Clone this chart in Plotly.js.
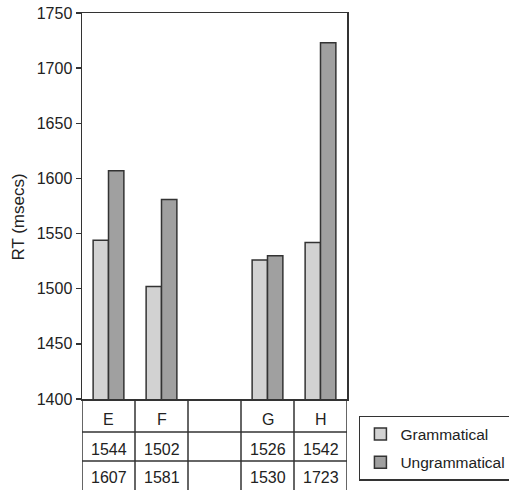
<!DOCTYPE html>
<html>
<head>
<meta charset="utf-8">
<script src="https://cdn.plot.ly/plotly-3.0.1.min.js"></script>
<style>html,body{margin:0;padding:0;background:#fff;}#chart{width:509px;height:490px;}</style>
</head>
<body>
<div id="chart"></div>
<script>
// ---- data ----
var categories = ['E', 'F', '', 'G', 'H'];
var grammatical = [1544, 1502, null, 1526, 1542];
var ungrammatical = [1607, 1581, null, 1530, 1723];
var seriesNames = ['Grammatical', 'Ungrammatical'];
var yTicks = [1400, 1450, 1500, 1550, 1600, 1650, 1700, 1750];

// ---- styling ----
var FONT = 'Liberation Sans, Arial, sans-serif';
var TXT = '#222';
var LINE = '#333';
var xIdx = categories.map(function (c, i) { return i; });

var traces = [
  {
    type: 'bar', name: seriesNames[0], x: xIdx, y: grammatical,
    marker: { color: '#d2d2d2', line: { color: LINE, width: 1.5 } },
    legendgroup: 'g', hoverinfo: 'skip'
  },
  {
    type: 'bar', name: seriesNames[1], x: xIdx, y: ungrammatical,
    marker: { color: '#a0a0a0', line: { color: LINE, width: 1.5 } },
    legendgroup: 'u', hoverinfo: 'skip'
  }
];

// table below the plot (header row + one row per series)
var rowY = [-0.0531, -0.1321, -0.2034];
var hLines = [-0.0855, -0.1606];
var shapes = [];
var annotations = [];
for (var i = 0; i <= categories.length; i++) {
  shapes.push({ type: 'line', xref: 'x', yref: 'paper', x0: i - 0.5, x1: i - 0.5, y0: 0, y1: -0.3,
    line: { color: LINE, width: 1.5 } });
}
hLines.forEach(function (yy) {
  shapes.push({ type: 'line', xref: 'x', yref: 'paper', x0: -0.5, x1: categories.length - 0.5, y0: yy, y1: yy,
    line: { color: LINE, width: 1.5 } });
});
var rows = [categories, grammatical, ungrammatical];
rows.forEach(function (row, r) {
  row.forEach(function (v, i) {
    if (v === null || v === '') return;
    annotations.push({ xref: 'x', yref: 'paper', x: i, y: rowY[r], text: String(v), showarrow: false,
      xanchor: 'center', yanchor: 'middle', font: { family: FONT, size: 16, color: TXT } });
  });
});
// y axis title
annotations.push({ xref: 'paper', yref: 'paper', x: -0.2377, y: 0.47, text: 'RT (msecs)', textangle: -90,
  showarrow: false, xanchor: 'center', yanchor: 'middle', font: { family: FONT, size: 17, color: TXT } });

var layout = {
  width: 509, height: 490,
  margin: { l: 82, r: 162, t: 13, b: 91, pad: 0, autoexpand: false },
  paper_bgcolor: '#fff', plot_bgcolor: '#fff',
  font: { family: FONT, size: 16, color: TXT },
  barmode: 'group', bargap: 0.42, bargroupgap: 0,
  showlegend: true,
  legend: {
    x: 1.045, xanchor: 'left', y: -0.044, yanchor: 'top',
    bordercolor: LINE, borderwidth: 1.5, bgcolor: '#fff',
    font: { family: FONT, size: 15.5, color: TXT },
    tracegroupgap: 5, traceorder: 'grouped'
  },
  xaxis: {
    range: [-0.5, categories.length - 0.5], showticklabels: false, ticks: '',
    showline: true, linecolor: LINE, linewidth: 1.5, mirror: true,
    showgrid: false, zeroline: false, fixedrange: true
  },
  yaxis: {
    range: [1400, 1750], tickvals: yTicks, ticks: 'outside', ticklen: 5, tickwidth: 1.5, tickcolor: LINE,
    showline: true, linecolor: LINE, linewidth: 1.5, mirror: true,
    showgrid: false, zeroline: false, ticklabelstandoff: 0,
    tickfont: { family: FONT, size: 16, color: TXT }, fixedrange: true
  },
  shapes: shapes,
  annotations: annotations
};

Plotly.newPlot('chart', traces, layout, { staticPlot: true, displayModeBar: false });
</script>
</body>
</html>
